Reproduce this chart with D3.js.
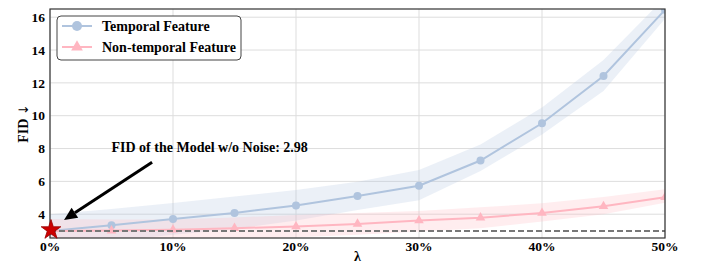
<!DOCTYPE html>
<html>
<head>
<meta charset="utf-8">
<script src="https://cdn.jsdelivr.net/npm/d3@7"></script>
<style>
  body { margin: 0; background: #fff; }
  text { font-family: "Liberation Serif", "DejaVu Serif", serif; font-weight: bold; }
</style>
</head>
<body>
<div id="chart"></div>
<script>
// Data
const lambdas = [0, 0.05, 0.10, 0.15, 0.20, 0.25, 0.30, 0.35, 0.40, 0.45, 0.50];
const temporal = [2.98, 3.33, 3.71, 4.08, 4.53, 5.11, 5.73, 7.27, 9.54, 12.42, 16.45];
const temporalLo = [1.98, 2.35, 2.75, 3.10, 3.62, 4.26, 4.85, 6.63, 8.85, 11.5, 15.9];
const temporalHi = [4.00, 4.32, 4.68, 5.08, 5.47, 5.98, 6.70, 8.24, 10.5, 13.4, 17.2];
const nonTemporal = [2.98, 3.00, 3.05, 3.15, 3.25, 3.41, 3.61, 3.79, 4.07, 4.48, 5.03];
const nonTemporalLo = [2.20, 2.30, 2.40, 2.50, 2.60, 2.75, 2.95, 3.15, 3.55, 4.00, 4.70];
const nonTemporalHi = [3.70, 3.68, 3.68, 3.80, 3.95, 4.08, 4.20, 4.42, 4.66, 5.05, 5.52];
const baselineFid = 2.98;
const xTicks = [0, 0.1, 0.2, 0.3, 0.4, 0.5];
const yTicks = [4, 6, 8, 10, 12, 14, 16];
const seriesNames = ["Temporal Feature", "Non-temporal Feature"];

const width = 702, height = 268;
const margin = { top: 9, right: 37, bottom: 30, left: 50 };

const blue = "#b0c4de", pink = "#ffb6c1";

const svg = d3.select("#chart").append("svg")
  .attr("width", width)
  .attr("height", height);

const x = d3.scaleLinear().domain([0, 0.5]).range([margin.left, width - margin.right]);
const y = d3.scaleLinear().domain([2.55, 16.5]).range([height - margin.bottom, margin.top]);

svg.append("defs").append("clipPath").attr("id", "plot-clip")
  .append("rect")
  .attr("x", margin.left).attr("y", margin.top)
  .attr("width", width - margin.left - margin.right)
  .attr("height", height - margin.top - margin.bottom);

// grid
const grid = svg.append("g").attr("stroke", "#dddddd").attr("stroke-width", 1);
grid.selectAll("line.h").data(yTicks).join("line")
  .attr("x1", margin.left).attr("x2", width - margin.right)
  .attr("y1", d => y(d)).attr("y2", d => y(d));
grid.selectAll("line.v").data(xTicks).join("line")
  .attr("y1", margin.top).attr("y2", height - margin.bottom)
  .attr("x1", d => x(d)).attr("x2", d => x(d));

const plot = svg.append("g").attr("clip-path", "url(#plot-clip)");

// bands
const band = (lo, hi) => d3.area()
  .x((d, i) => x(lambdas[i]))
  .y0((d, i) => y(lo[i]))
  .y1((d, i) => y(hi[i]));

plot.append("path").datum(lambdas)
  .attr("d", band(temporalLo, temporalHi))
  .attr("fill", blue).attr("fill-opacity", 0.25);
plot.append("path").datum(lambdas)
  .attr("d", band(nonTemporalLo, nonTemporalHi))
  .attr("fill", pink).attr("fill-opacity", 0.25);

// lines
const line = d3.line().x((d, i) => x(lambdas[i])).y(d => y(d));
plot.append("path").datum(temporal)
  .attr("d", line).attr("fill", "none").attr("stroke", blue).attr("stroke-width", 2);
plot.append("path").datum(nonTemporal)
  .attr("d", line).attr("fill", "none").attr("stroke", pink).attr("stroke-width", 2);

plot.selectAll("circle.t").data(temporal).join("circle")
  .attr("cx", (d, i) => x(lambdas[i])).attr("cy", d => y(d))
  .attr("r", 4).attr("fill", blue);

const tri = d3.symbol().type(d3.symbolTriangle).size(40);
plot.selectAll("path.nt").data(nonTemporal).join("path")
  .attr("d", tri)
  .attr("transform", (d, i) => `translate(${x(lambdas[i])},${y(d)})`)
  .attr("fill", pink);

// baseline dashed
svg.append("line")
  .attr("x1", x(0)).attr("x2", x(0.5))
  .attr("y1", y(baselineFid)).attr("y2", y(baselineFid))
  .attr("stroke", "#777").attr("stroke-width", 2)
  .attr("stroke-dasharray", "6,3");

// spines
svg.append("rect")
  .attr("x", margin.left).attr("y", margin.top)
  .attr("width", width - margin.left - margin.right)
  .attr("height", height - margin.top - margin.bottom)
  .attr("fill", "none").attr("stroke", "#333").attr("stroke-width", 1.2);

// star
svg.append("path")
  .attr("d", d3.symbol().type(d3.symbolStar).size(120))
  .attr("transform", `translate(${x(0) + 1},${y(baselineFid) - 1})`)
  .attr("fill", "#cc0000").attr("stroke", "#990000").attr("stroke-width", 0.8);

// annotation arrow
const tail = [x(0.083), y(7.17)], tip = [x(0.0114), y(3.65)];
const ang = Math.atan2(tip[1] - tail[1], tip[0] - tail[0]);
const headLen = 13, headW = 6;
const base = [tip[0] - headLen * Math.cos(ang), tip[1] - headLen * Math.sin(ang)];
svg.append("line")
  .attr("x1", tail[0]).attr("y1", tail[1])
  .attr("x2", base[0]).attr("y2", base[1])
  .attr("stroke", "#000").attr("stroke-width", 3);
svg.append("path")
  .attr("d", `M${tip[0]},${tip[1]}L${base[0] + headW * Math.sin(ang)},${base[1] - headW * Math.cos(ang)}L${base[0] - headW * Math.sin(ang)},${base[1] + headW * Math.cos(ang)}Z`)
  .attr("fill", "#000");
svg.append("text")
  .attr("x", x(0.05)).attr("y", y(7.8))
  .attr("font-size", 14).attr("fill", "#000")
  .text("FID of the Model w/o Noise: " + baselineFid.toFixed(2));

// tick labels
svg.selectAll("text.yt").data(yTicks).join("text")
  .attr("x", margin.left - 5).attr("y", d => y(d))
  .attr("dy", "0.35em").attr("text-anchor", "end")
  .attr("font-size", 13.5).attr("fill", "#000")
  .text(d => d);
svg.selectAll("text.xt").data(xTicks).join("text")
  .attr("x", d => x(d)).attr("y", height - margin.bottom + 13)
  .attr("text-anchor", "middle")
  .attr("font-size", 13.5).attr("fill", "#000")
  .text(d => d3.format(".0%")(d));

// axis labels
svg.append("text")
  .attr("x", x(0.25)).attr("y", height - 7)
  .attr("text-anchor", "middle").attr("font-size", 14).attr("fill", "#000")
  .text("λ");
const yl = svg.append("text")
  .attr("transform", `translate(28,${(margin.top + height - margin.bottom) / 2}) rotate(-90)`)
  .attr("text-anchor", "middle").attr("font-size", 14).attr("fill", "#000");
yl.append("tspan").text("FID ");
yl.append("tspan").attr("font-family", "DejaVu Sans").attr("font-weight", "normal")
  .attr("font-size", 13).text("↓");

// legend
const lg = svg.append("g").attr("transform", "translate(57,16)");
lg.append("rect").attr("width", 184).attr("height", 44).attr("rx", 4)
  .attr("fill", "#fff").attr("stroke", "#444").attr("stroke-width", 1);
const rows = lg.selectAll("g").data(seriesNames).join("g")
  .attr("transform", (d, i) => `translate(0,${10 + i * 21})`);
rows.append("line").attr("x1", 5).attr("x2", 35)
  .attr("stroke", (d, i) => i === 0 ? blue : pink).attr("stroke-width", 2);
rows.filter((d, i) => i === 0).append("circle")
  .attr("cx", 20).attr("r", 5).attr("fill", blue);
rows.filter((d, i) => i === 1).append("path")
  .attr("d", d3.symbol().type(d3.symbolTriangle).size(60))
  .attr("transform", "translate(20,0)").attr("fill", pink);
rows.append("text").attr("x", 45).attr("dy", "0.35em")
  .attr("font-size", 14).attr("fill", "#000")
  .text(d => d);
</script>
</body>
</html>
